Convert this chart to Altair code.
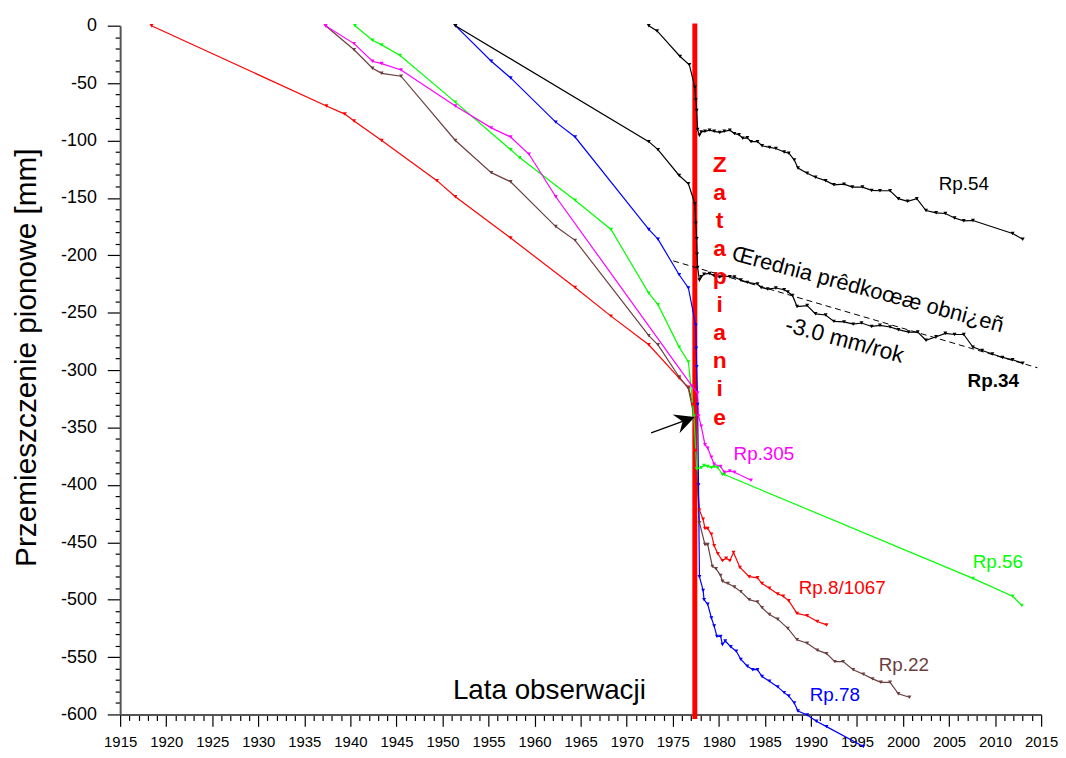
import altair as alt
import pandas as pd

# ---------------- data ----------------
years_8 = [1918.4, 1937.4, 1939.4, 1940.4, 1943.4, 1949.4, 1951.4, 1957.4, 1964.4, 1968.3, 1972.4, 1975.7, 1976.7,
           1977.2, 1977.5, 1977.7, 1977.9, 1978.3, 1978.5, 1978.8, 1979.2, 1979.5, 1979.9, 1980.4, 1980.8, 1981.2,
           1981.6, 1982.3, 1983.3, 1984.2, 1984.7, 1985.5, 1986.4, 1987.0, 1987.6, 1988.5, 1989.6, 1990.7, 1991.7]
vals_8 = [0, -70, -77, -83, -100, -135, -149, -185, -228, -253, -278, -307, -315,
          -330, -370, -400, -422, -430, -438, -438, -443, -453, -460, -466, -464, -466,
          -459, -472, -480, -481, -486, -490, -495, -497, -501, -512, -514, -519, -522]

years_22 = [1937.3, 1940.4, 1942.4, 1943.4, 1945.5, 1951.4, 1955.3, 1957.4, 1962.3, 1964.4, 1972.4, 1973.4, 1975.7,
            1976.7, 1977.3, 1977.6, 1977.9, 1978.5, 1978.8, 1979.3, 1979.7, 1980.2, 1980.4, 1981.0, 1981.7, 1982.4,
            1983.3, 1984.2, 1984.7, 1985.5, 1986.4, 1987.5, 1988.5, 1989.6, 1990.7, 1991.7, 1992.6, 1993.5, 1994.6,
            1995.7, 1996.7, 1997.6, 1998.6, 1999.5, 2000.7]
vals_22 = [0, -21, -37, -41.5, -44, -100, -128, -136, -175, -187, -270, -278, -306,
           -316, -340, -390, -433, -452, -452, -471, -473, -479, -484, -486, -489, -493,
           -500, -502, -507, -513, -517, -525, -535, -538, -544, -547, -554, -554, -561,
           -565, -569, -572, -572, -582, -585]

years_78 = [1951.4, 1955.3, 1957.4, 1962.3, 1964.4, 1972.4, 1973.4, 1975.7, 1976.7, 1977.5, 1977.55, 1977.6, 1977.7,
            1977.8, 1977.9, 1978.3, 1978.4, 1978.8, 1979.2, 1979.5, 1979.8, 1980.2, 1980.4, 1980.7, 1981.3, 1981.9,
            1982.4, 1983.1, 1983.7, 1984.2, 1984.7, 1985.5, 1986.4, 1987.1, 1987.6, 1988.2, 1988.6, 1989.6, 1990.6,
            1991.7, 1995.7]
vals_78 = [0, -31, -45.5, -84, -97, -177.5, -186, -217, -228.5, -261, -281, -297, -330,
           -400, -480, -492, -500, -504, -516, -523, -532, -532, -539, -536, -541, -545,
           -552, -558, -561, -561, -567, -571, -576, -581, -584, -590, -597, -600.5, -606,
           -610.6, -628]

years_56 = [1940.5, 1942.4, 1943.4, 1945.4, 1951.4, 1957.4, 1958.4, 1964.4, 1968.3, 1972.4, 1973.4, 1975.7, 1976.7,
            1977.3, 1977.6, 1978.1, 1978.4, 1978.8, 1979.2, 1979.5, 1979.9, 1980.4, 1980.6, 2007.6, 2011.9, 2012.9]
vals_56 = [0, -12.7, -16.7, -26, -66.6, -108, -115, -152, -177.5, -233, -243, -280, -293,
           -340, -386, -385, -383, -384, -385, -384, -385, -391, -391, -481.5, -497, -505]

years_305 = [1937.3, 1940.4, 1942.4, 1943.4, 1945.5, 1951.4, 1955.3, 1957.4, 1959.4, 1962.3, 1977.1, 1977.7,
             1977.8, 1978.1, 1978.5, 1978.8, 1979.2, 1979.5, 1980.2, 1980.6, 1981.2, 1981.7, 1983.5]
vals_305 = [0, -15.6, -31, -33, -38.6, -70, -89, -97, -112, -149, -314, -320,
            -340, -349, -365, -368, -376, -382, -384, -389, -388, -389, -396]

years_54 = [1972.4, 1973.3, 1975.8, 1976.8, 1977.4, 1977.5, 1977.6, 1977.7, 1977.9, 1978.1, 1978.5, 1979.0, 1979.5,
            1980.1, 1980.6, 1981.2, 1981.7, 1982.2, 1982.6, 1983.1, 1983.5, 1984.2, 1984.7, 1985.5, 1986.2, 1987.1,
            1987.6, 1988.2, 1988.6, 1989.6, 1990.5, 1991.6, 1992.5, 1993.6, 1994.5, 1995.6, 1996.6, 1997.5, 1998.6,
            1999.5, 2000.5, 2001.5, 2002.5, 2003.6, 2004.6, 2005.6, 2006.6, 2007.6, 2011.9, 2013.0]
vals_54 = [0, -4.6, -26.8, -34, -53.6, -64.6, -73.8, -90.5, -95.4, -92.5, -92, -91, -92,
           -93, -92, -91, -94, -95, -98, -97.7, -101, -101, -104.6, -106, -107, -110,
           -111, -117, -124, -128.5, -132, -135, -138.6, -138, -140.6, -140.6, -143.5, -143.8, -143.8,
           -150.7, -153, -150.7, -161, -163, -163.6, -167.5, -170, -169.7, -181, -186]

years_34 = [1951.4, 1972.4, 1973.4, 1975.7, 1976.7, 1977.4, 1977.5, 1977.6, 1977.65, 1977.7, 1977.9, 1978.1, 1978.4,
            1979.0, 1979.5, 1980.1, 1980.6, 1981.2, 1981.7, 1982.4, 1983.1, 1984.2, 1984.6, 1985.3, 1986.2, 1987.1,
            1987.5, 1988.0, 1988.5, 1989.6, 1990.5, 1991.6, 1992.5, 1993.6, 1994.6, 1995.5, 1996.6, 1997.5, 1998.6,
            1999.5, 2000.6, 2001.6, 2002.5, 2003.6, 2004.6, 2005.6, 2006.6, 2007.6, 2008.6, 2009.7, 2010.8, 2011.9,
            2013.0]
vals_34 = [0, -101, -108, -130.5, -137.7, -155, -172, -185.6, -199, -210.7, -221.6, -218.7, -216.4,
           -215.8, -217.9, -219, -218, -218.7, -219, -221.6, -223.6, -225, -228, -229.4, -228.5, -230,
           -232, -235, -244.7, -243.8, -251, -252, -257.6, -258, -260, -259, -262, -261, -262.5,
           -264.8, -266.9, -266.9, -274, -271, -268, -269, -269, -280, -283, -286, -289, -291,
           -294]

series_names = ["Rp.8/1067", "Rp.22", "Rp.78", "Rp.56", "Rp.305", "Rp.54", "Rp.34"]
series_colors = ["#ff0000", "#6b3f3f", "#0000ff", "#00ff00", "#ff00ff", "#000000", "#000000"]
series_years = [years_8, years_22, years_78, years_56, years_305, years_54, years_34]
series_vals = [vals_8, vals_22, vals_78, vals_56, vals_305, vals_54, vals_34]

# trend line (dashed)
trend_years = [1975.05, 2014.6]
trend_vals = [-204.9, -298.0]

# flooding moment
flood_year = 1977.4
flood_top, flood_bottom = 2, -604

# arrow (tail -> notch, tip)
arrow_years = [1972.65, 1976.08]
arrow_vals = [-354.7, -344.7]
arrow_tip = (1977.39, -340.9)

# series labels
label_texts = ["Rp.54", "Rp.34", "Rp.305", "Rp.56", "Rp.8/1067", "Rp.22", "Rp.78"]
label_years = [2006.6, 2009.8, 1984.9, 2010.3, 1993.4, 2000.1, 1992.6]
label_vals = [-138.1, -309.5, -372.9, -467.0, -490.0, -557.3, -583.0]
label_colors = ["#000000", "#000000", "#ff00ff", "#00ff00", "#ff0000", "#6b3f3f", "#0000ff"]
label_weights = ["normal", "bold", "normal", "normal", "normal", "normal", "normal"]

rate_title = "Œrednia prêdkoœæ obni¿eñ"
rate_value = "-3.0 mm/rok"
rate_pos = [(1981.3, -204.0), (1987.09, -266.3)]

flood_word = "Zatapianie"
flood_word_pos = (1980.09, -121.0)   # position of the first letter

x_ticks = list(range(1915, 2016))
y_ticks = list(range(-600, 1, 10))

# ---------------- chart ----------------
FONT = "Liberation Sans"
xs = alt.Scale(domain=[1915, 2015], nice=False, zero=False)
ys = alt.Scale(domain=[-600, 0], nice=False, zero=False)

x_axis = alt.Axis(
    values=x_ticks, grid=False,
    labelExpr="datum.value % 5 === 0 ? '' + datum.value : ''",
    tickSize={"condition": {"test": "datum.value % 5 === 0", "value": 12}, "value": 6},
    tickColor="black", tickWidth=1.2, domainColor="#555555", domainWidth=2,
    labelFont=FONT, labelFontSize=15, labelColor="black", labelPadding=8, labelFlush=False,
    labelOverlap=False,
    title="Lata obserwacji", titleFont=FONT, titleFontSize=28, titleFontWeight="normal",
    titleColor="black", titleX=432, titleY=-24, titleBaseline="middle", titleAlign="center",
)
y_axis = alt.Axis(
    values=y_ticks, grid=False,
    labelExpr="datum.value % 50 === 0 ? '' + datum.value : ''",
    tickSize={"condition": {"test": "datum.value % 50 === 0", "value": 13}, "value": 5},
    tickColor="black", tickWidth=1.2, domainColor="#555555", domainWidth=2,
    labelFont=FONT, labelFontSize=18, labelColor="black", labelPadding=11, labelFlush=False,
    labelOverlap=False,
    title="Przemieszczenie pionowe [mm]", titleFont=FONT, titleFontSize=30, titleFontWeight="normal",
    titleColor="black", titleX=-94, titleY=334, titleAngle=270, titleBaseline="middle", titleAlign="center",
)


def X(field="year"):
    return alt.X(f"{field}:Q", scale=xs, axis=x_axis)


def Y(field="val"):
    return alt.Y(f"{field}:Q", scale=ys, axis=y_axis)


rows = []
for name, yrs, vls in zip(series_names, series_years, series_vals):
    for i, (a, b) in enumerate(zip(yrs, vls)):
        rows.append({"series": name, "year": a, "val": b, "idx": i})
df = pd.DataFrame(rows)

color = alt.Color("series:N", scale=alt.Scale(domain=series_names, range=series_colors), legend=None)

flood_df = pd.DataFrame({"year": [flood_year], "top": [flood_top], "bottom": [flood_bottom]})
flood_rule = alt.Chart(flood_df).mark_rule(color="#ff0000", strokeWidth=5).encode(
    x=X(), y=Y("top"), y2="bottom:Q",
)

lines = alt.Chart(df).mark_line(strokeWidth=1.2).encode(
    x=X(), y=Y(), color=color, detail="series:N", order="idx:Q",
)
points = alt.Chart(df).mark_point(shape="triangle-down", filled=True, size=16, opacity=1).encode(
    x=X(), y=Y(), color=color,
)

trend_df = pd.DataFrame({"year": trend_years, "val": trend_vals})
trend = alt.Chart(trend_df).mark_line(color="black", strokeWidth=1, strokeDash=[6, 4]).encode(x=X(), y=Y())

arrow_df = pd.DataFrame({"year": arrow_years, "val": arrow_vals})
arrow_line = alt.Chart(arrow_df).mark_line(color="black", strokeWidth=1.3).encode(x=X(), y=Y())
tip_df = pd.DataFrame({"year": [arrow_tip[0]], "val": [arrow_tip[1]]})
arrow_head = alt.Chart(tip_df).mark_point(
    shape="M0,0L-2,-1L-1.3,0L-2,1Z", size=400, angle=340, filled=True, color="black", opacity=1
).encode(x=X(), y=Y())

lab_df = pd.DataFrame({"text": label_texts, "year": label_years, "val": label_vals,
                       "c": label_colors, "w": label_weights})
labels_normal = alt.Chart(lab_df[lab_df.w == "normal"]).mark_text(
    font=FONT, fontSize=19, align="center", baseline="middle"
).encode(x=X(), y=Y(), text="text:N", color=alt.Color("c:N", scale=None))
labels_bold = alt.Chart(lab_df[lab_df.w == "bold"]).mark_text(
    font=FONT, fontSize=19, fontWeight="bold", align="center", baseline="middle"
).encode(x=X(), y=Y(), text="text:N", color=alt.Color("c:N", scale=None))

rate_df = pd.DataFrame({"text": [rate_title, rate_value],
                        "year": [p[0] for p in rate_pos], "val": [p[1] for p in rate_pos],
                        "fs": [22, 23]})
rate_text = alt.Chart(rate_df).mark_text(
    font=FONT, align="left", baseline="alphabetic", angle=15, color="black"
).encode(x=X(), y=Y(), text="text:N", size=alt.Size("fs:Q", scale=None, legend=None))

zat_df = pd.DataFrame({"text": ["\n".join(flood_word)], "year": [flood_word_pos[0]], "val": [flood_word_pos[1]]})
zat_text = alt.Chart(zat_df).mark_text(
    font=FONT, fontSize=23, fontWeight="bold", color="#ff0000", align="center", baseline="middle",
    lineBreak="\n", lineHeight=28.33
).encode(x=X(), y=Y(), text="text:N")

chart = alt.layer(
    flood_rule, trend, lines, points, arrow_line, arrow_head,
    labels_normal, labels_bold, rate_text, zat_text
).properties(
    width=928, height=694,
    padding={"left": 113, "top": 15, "right": 17, "bottom": 33},
    autosize=alt.AutoSizeParams(type="none"),
    background="white",
).configure_view(stroke=None)

chart.save("out.html", embed_options={"renderer": "svg", "actions": False})
